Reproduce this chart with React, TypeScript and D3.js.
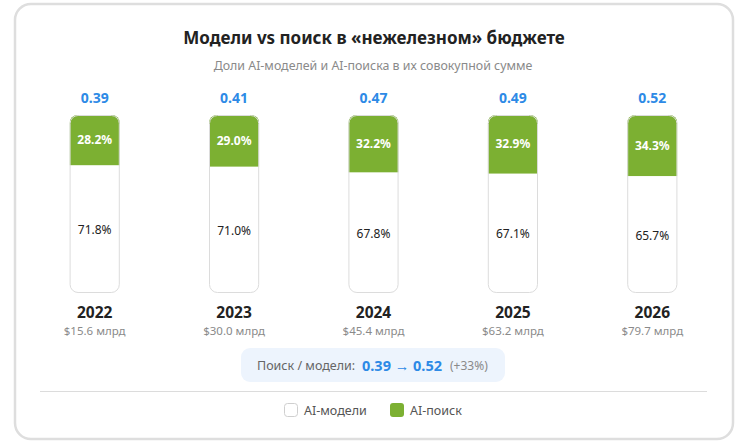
import * as d3 from "d3";

const years = ["2022", "2023", "2024", "2025", "2026"];
const searchShare = [28.2, 29.0, 32.2, 32.9, 34.3];
const modelShare = [71.8, 71.0, 67.8, 67.1, 65.7];
const ratios = ["0.39", "0.41", "0.47", "0.49", "0.52"];
const totals = ["$15.6 млрд", "$30.0 млрд", "$45.4 млрд", "$63.2 млрд", "$79.7 млрд"];

const W = 749;
const H = 443;
const GREEN = "#7cb032";
const BLUE = "#2d8ae6";
const FONT = "'Noto Sans', 'Open Sans', sans-serif";

export default function App() {
  const x = d3.scaleBand().domain(years).range([25, 722]).paddingInner(0.64).paddingOuter(0.32);
  const y = d3.scaleLinear().domain([0, 100]).range([115, 293]);
  const bw = x.bandwidth();

  return (
    <svg
      width={W}
      height={H}
      style={{ position: "absolute", left: 0, top: 0, fontFamily: FONT }}
    >
      <rect x={0} y={0} width={W} height={H} fill="#fff" />
      <rect x={15} y={4} width={718} height={435} rx={16} fill="#fff" stroke="#dedede" strokeWidth={2.5} />
      <text x={374} y={44} textAnchor="middle" fontSize={17} fontWeight={700} fill="#222">
        Модели vs поиск в «нежелезном» бюджете
      </text>
      <text x={373} y={70} textAnchor="middle" fontSize={12.4} fill="#8a8a8a">
        Доли AI-моделей и AI-поиска в их совокупной сумме
      </text>

      {years.map((yr, i) => {
        const x0 = x(yr)!;
        const cx = x0 + bw / 2;
        const ySplit = y(searchShare[i]);
        const clipId = `clip-${i}`;
        return (
          <g key={yr}>
            <defs>
              <clipPath id={clipId}>
                <rect x={x0} y={y(0)} width={bw} height={y(100) - y(0)} rx={8} />
              </clipPath>
            </defs>
            <text x={cx} y={103} textAnchor="middle" fontSize={14} fontWeight={700} fill={BLUE}>
              {ratios[i]}
            </text>
            <g clipPath={`url(#${clipId})`}>
              <rect x={x0} y={y(0)} width={bw} height={y(100) - y(0)} fill="#fff" />
              <rect x={x0} y={y(0)} width={bw} height={ySplit - y(0)} fill={GREEN} />
            </g>
            <rect
              x={x0 + 0.5}
              y={y(0) + 0.5}
              width={bw - 1}
              height={y(100) - y(0) - 1}
              rx={8}
              fill="none"
              stroke="#dcdcdc"
            />
            <text x={cx} y={(y(0) + ySplit) / 2 + 4} textAnchor="middle" fontSize={12} fontWeight={700} fill="#fff">
              {searchShare[i].toFixed(1)}%
            </text>
            <text x={cx} y={(ySplit + y(100)) / 2 + 5} textAnchor="middle" fontSize={12} fill="#222">
              {modelShare[i].toFixed(1)}%
            </text>
            <text x={cx} y={318} textAnchor="middle" fontSize={15.5} fontWeight={700} fill="#222">
              {yr}
            </text>
            <text x={cx} y={335} textAnchor="middle" fontSize={11.5} fill="#8a8a8a">
              {totals[i]}
            </text>
          </g>
        );
      })}

      <rect x={241} y={348} width={264} height={34} rx={9} fill="#edf4fd" />
      <text x={257} y={370} fontSize={12.5} fill="#666">Поиск / модели:</text>
      <text x={362} y={371} fontSize={14.5} fontWeight={700} fill={BLUE}>
        {ratios[0]} → {ratios[ratios.length - 1]}
      </text>
      <text x={450} y={370} fontSize={12} fill="#8a8a8a">(+33%)</text>

      <line x1={40} x2={707} y1={391.5} y2={391.5} stroke="#dcdcdc" />

      <rect x={284.5} y={403.5} width={13} height={13} rx={3} fill="#fff" stroke="#cfcfcf" />
      <text x={304} y={415} fontSize={12.5} fill="#555">AI-модели</text>
      <rect x={390} y={403} width={14} height={14} rx={3} fill={GREEN} />
      <text x={410} y={415} fontSize={12.5} fill="#555">AI-поиск</text>
    </svg>
  );
}
